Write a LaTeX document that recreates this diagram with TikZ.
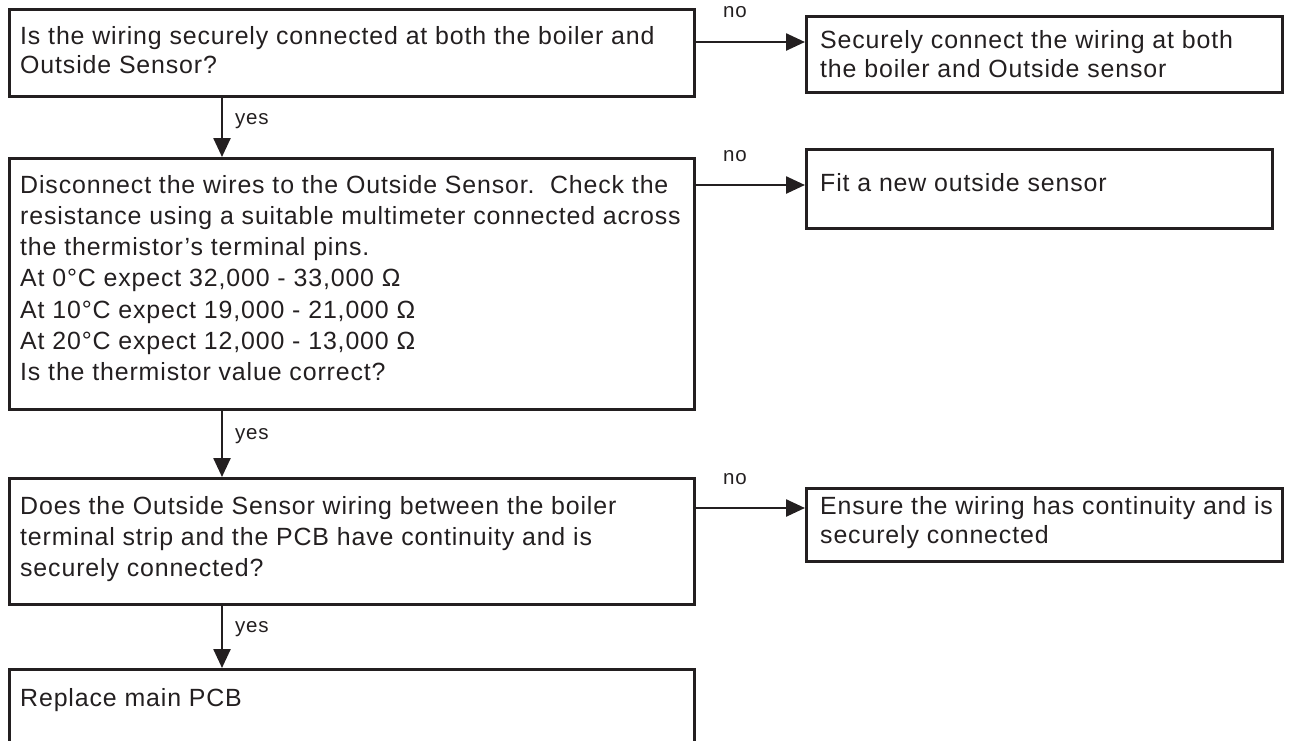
\documentclass[tikz,border=0pt]{standalone}
\usepackage{fontspec}
\setmainfont{Liberation Sans}[LetterSpace=3.5]
\usetikzlibrary{arrows.meta}
\definecolor{ink}{HTML}{231F20}
\begin{document}
\begin{tikzpicture}[x=1pt,y=-1pt,
  box/.style={draw=ink, line width=2.5pt, inner sep=0pt, anchor=north west},
  txt/.style={anchor=base west, inner sep=0pt, text=ink},
  lbl/.style={anchor=base west, inner sep=0pt, text=ink, font=\fontsize{20.5}{22}\selectfont},
  arr/.style={draw=ink, line width=2.5pt, -{Triangle[length=19pt,width=17pt]}}]
\useasboundingbox (0,0) rectangle (1291,740);
% boxes
\node[box, minimum width=685pt, minimum height=87pt] (b1) at (8,8) {};
\node[box, minimum width=476pt, minimum height=76pt] (b1r) at (805,15) {};
\node[box, minimum width=466pt, minimum height=79pt] (b2r) at (805,148) {};
\node[box, minimum width=685pt, minimum height=251pt] (b2) at (8,157) {};
\node[box, minimum width=685pt, minimum height=126pt] (b3) at (8,477) {};
\node[box, minimum width=476pt, minimum height=73pt] (b3r) at (805,487) {};
\node[box, minimum width=685pt, minimum height=100pt] (b4) at (8,668) {};
% texts
\node[txt] (t1) at (20,44) {\fontsize{24.9}{29.5}\selectfont\parbox[t]{800pt}{Is the wiring securely connected at both the boiler and\\Outside Sensor?}};
\node[txt] (t1r) at (820,48) {\fontsize{24.9}{29}\selectfont\parbox[t]{800pt}{Securely connect the wiring at both\\the boiler and Outside sensor}};
\node[txt] (t2) at (20,193) {\fontsize{24.9}{31.3}\selectfont\parbox[t]{800pt}{Disconnect the wires to the Outside Sensor.~~Check the\\resistance using a suitable multimeter connected across\\the thermistor’s terminal pins.\\At 0°C expect 32,000 - 33,000 Ω\\At 10°C expect 19,000 - 21,000 Ω\\At 20°C expect 12,000 - 13,000 Ω\\Is the thermistor value correct?}};
\node[txt] (t2r) at (820,191) {\fontsize{24.9}{29}\selectfont Fit a new outside sensor};
\node[txt] (t3) at (20,514) {\fontsize{24.9}{31}\selectfont\parbox[t]{800pt}{Does the Outside Sensor wiring between the boiler\\terminal strip and the PCB have continuity and is\\securely connected?}};
\node[txt] (t3r) at (820,514) {\fontsize{24.9}{29}\selectfont\parbox[t]{800pt}{Ensure the wiring has continuity and is\\securely connected}};
\node[txt] (t4) at (20,706) {\fontsize{24.9}{29}\selectfont Replace main PCB};
% connector guides
\coordinate (ax) at (222,0);
\coordinate (n1) at (0,42);
\coordinate (n2) at (0,185);
\coordinate (n3) at (0,508);
% yes arrows
\draw[arr] (b1.south -| ax) -- (b2.north -| ax);
\draw[arr] (b2.south -| ax) -- (b3.north -| ax);
\draw[arr] (b3.south -| ax) -- (b4.north -| ax);
% no arrows
\draw[arr] (b1.east |- n1) -- (b1r.west |- n1);
\draw[arr] (b2.east |- n2) -- (b2r.west |- n2);
\draw[arr] (b3.east |- n3) -- (b3r.west |- n3);
% labels
\node[lbl] (y1) at (235,124) {yes};
\node[lbl] (y2) at (235,439) {yes};
\node[lbl] (y3) at (235,632) {yes};
\node[lbl] (o1) at (723,17) {no};
\node[lbl] (o2) at (723,161) {no};
\node[lbl] (o3) at (723,484) {no};
\end{tikzpicture}
\end{document}
